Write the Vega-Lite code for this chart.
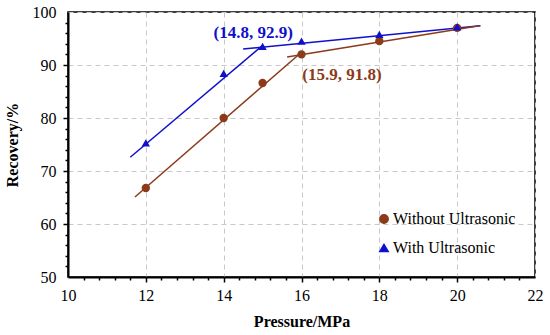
{
  "$schema": "https://vega.github.io/schema/vega-lite/v6.json",
  "width": 467,
  "height": 265,
  "autosize": {"type": "none"},
  "padding": {"left": 68, "top": 12, "right": 15, "bottom": 58},
  "background": "white",
  "config": {
    "view": {"stroke": "black", "strokeWidth": 1.5},
    "font": "Liberation Serif",
    "axis": {
      "labelFont": "Liberation Serif",
      "labelFontSize": 16,
      "labelColor": "black",
      "labelOverlap": false,
      "titleFont": "Liberation Serif",
      "titleFontSize": 16,
      "titleFontWeight": "bold",
      "titleColor": "black",
      "domainColor": "black",
      "domainWidth": 2,
      "gridColor": "#c8c8c8",
      "gridDash": [5, 4],
      "gridWidth": 1
    }
  },
  "datasets": {
    "points": [
      {"pressure": 12, "recovery": 66.8, "series": "Without Ultrasonic"},
      {"pressure": 14, "recovery": 80.0, "series": "Without Ultrasonic"},
      {"pressure": 15, "recovery": 86.6, "series": "Without Ultrasonic"},
      {"pressure": 16, "recovery": 92.0, "series": "Without Ultrasonic"},
      {"pressure": 18, "recovery": 94.5, "series": "Without Ultrasonic"},
      {"pressure": 20, "recovery": 97.0, "series": "Without Ultrasonic"},
      {"pressure": 12, "recovery": 75.3, "series": "With Ultrasonic"},
      {"pressure": 14, "recovery": 88.4, "series": "With Ultrasonic"},
      {"pressure": 15, "recovery": 93.5, "series": "With Ultrasonic"},
      {"pressure": 16, "recovery": 94.5, "series": "With Ultrasonic"},
      {"pressure": 18, "recovery": 95.8, "series": "With Ultrasonic"},
      {"pressure": 20, "recovery": 97.2, "series": "With Ultrasonic"}
    ],
    "fits": [
      {"seg": "w1", "pressure": 11.6, "recovery": 72.6, "series": "With Ultrasonic"},
      {"seg": "w1", "pressure": 15.0, "recovery": 93.7, "series": "With Ultrasonic"},
      {"seg": "w2", "pressure": 14.5, "recovery": 93.0, "series": "With Ultrasonic"},
      {"seg": "w2", "pressure": 20.6, "recovery": 97.4, "series": "With Ultrasonic"},
      {"seg": "o1", "pressure": 11.72, "recovery": 65.1, "series": "Without Ultrasonic"},
      {"seg": "o1", "pressure": 16.0, "recovery": 92.4, "series": "Without Ultrasonic"},
      {"seg": "o2", "pressure": 15.63, "recovery": 91.5, "series": "Without Ultrasonic"},
      {"seg": "o2", "pressure": 20.57, "recovery": 97.4, "series": "Without Ultrasonic"}
    ],
    "notes": [
      {"pressure": 14.76, "recovery": 96.0, "text": "(14.8, 92.9)", "series": "With Ultrasonic"},
      {"pressure": 17.04, "recovery": 88.1, "text": "(15.9, 91.8)", "series": "Without Ultrasonic"}
    ]
  },
  "resolve": {"axis": {"x": "independent", "y": "independent"}},
  "layer": [
    {
      "data": {"name": "fits"},
      "mark": {"type": "line", "strokeWidth": 1.5},
      "encoding": {
        "x": {
          "field": "pressure", "type": "quantitative",
          "scale": {"domain": [10, 22], "nice": false, "zero": false},
          "axis": {
            "orient": "bottom",
            "title": "Pressure/MPa",
            "values": [10, 12, 14, 16, 18, 20, 22],
            "format": "d",
            "ticks": false,
            "labelPadding": 10,
            "titlePadding": 10,
            "labelFlush": false
          }
        },
        "y": {
          "field": "recovery", "type": "quantitative",
          "scale": {"domain": [50, 100], "nice": false, "zero": false},
          "axis": {
            "orient": "left",
            "title": "Recovery/%",
            "values": [50, 60, 70, 80, 90, 100],
            "format": "d",
            "ticks": false,
            "labelPadding": 12,
            "titlePadding": 12,
            "labelFlush": false
          }
        },
        "detail": {"field": "seg"},
        "color": {
          "field": "series", "type": "nominal",
          "scale": {"domain": ["Without Ultrasonic", "With Ultrasonic"], "range": ["#8B3A1A", "#1010CC"]},
          "legend": {
            "title": null, "orient": "none", "legendX": 308, "legendY": 199,
            "labelFont": "Liberation Serif", "labelFontSize": 16, "labelColor": "black",
            "symbolSize": 70, "rowPadding": 13, "labelOffset": 1
          }
        }
      }
    },
    {
      "data": {"name": "points"},
      "mark": {"type": "point", "filled": true, "opacity": 1, "size": 70},
      "encoding": {
        "x": {
          "field": "pressure", "type": "quantitative",
          "axis": {
            "orient": "bottom", "title": null, "labels": false, "domain": false, "grid": false,
            "values": [12, 14, 16, 18, 20],
            "tickSize": 5, "tickColor": "black", "tickWidth": 1.5
          }
        },
        "y": {
          "field": "recovery", "type": "quantitative",
          "axis": {
            "orient": "left", "title": null, "labels": false, "domain": false, "grid": false,
            "values": [60, 70, 80, 90],
            "tickSize": 5, "tickColor": "black", "tickWidth": 1.5
          }
        },
        "color": {
          "field": "series", "type": "nominal",
          "scale": {"domain": ["Without Ultrasonic", "With Ultrasonic"], "range": ["#8B3A1A", "#1010CC"]},
          "legend": {
            "title": null, "orient": "none", "legendX": 308, "legendY": 199,
            "labelFont": "Liberation Serif", "labelFontSize": 16, "labelColor": "black",
            "symbolSize": 70, "rowPadding": 13, "labelOffset": 1
          }
        },
        "shape": {
          "field": "series", "type": "nominal",
          "scale": {"domain": ["Without Ultrasonic", "With Ultrasonic"], "range": ["circle", "triangle-up"]},
          "legend": {
            "title": null, "orient": "none", "legendX": 308, "legendY": 199,
            "labelFont": "Liberation Serif", "labelFontSize": 16, "labelColor": "black",
            "symbolSize": 70, "rowPadding": 13, "labelOffset": 1
          }
        }
      }
    },
    {
      "data": {"name": "notes"},
      "mark": {"type": "text", "font": "Liberation Serif", "fontSize": 17, "fontWeight": "bold", "align": "center", "baseline": "middle"},
      "encoding": {
        "x": {
          "field": "pressure", "type": "quantitative",
          "axis": {
            "orient": "bottom", "title": null, "labels": false, "domain": false, "grid": false,
            "values": [10.4, 10.8, 11.2, 11.6, 12.4, 12.8, 13.2, 13.6, 14.4, 14.8, 15.2, 15.6, 16.4, 16.8, 17.2, 17.6, 18.4, 18.8, 19.2, 19.6, 20.4, 20.8, 21.2, 21.6],
            "tickSize": 3, "tickColor": "black", "tickWidth": 1.5
          }
        },
        "y": {
          "field": "recovery", "type": "quantitative",
          "axis": {
            "orient": "left", "title": null, "labels": false, "domain": false, "grid": false,
            "values": [52, 54, 56, 58, 62, 64, 66, 68, 72, 74, 76, 78, 82, 84, 86, 88, 92, 94, 96, 98],
            "tickSize": 3, "tickColor": "black", "tickWidth": 1.5
          }
        },
        "text": {"field": "text"},
        "color": {
          "field": "series", "type": "nominal",
          "scale": {"domain": ["Without Ultrasonic", "With Ultrasonic"], "range": ["#8B3A1A", "#1010CC"]},
          "legend": {
            "title": null, "orient": "none", "legendX": 308, "legendY": 199,
            "labelFont": "Liberation Serif", "labelFontSize": 16, "labelColor": "black",
            "symbolSize": 70, "rowPadding": 13, "labelOffset": 1
          }
        }
      }
    }
  ]
}
